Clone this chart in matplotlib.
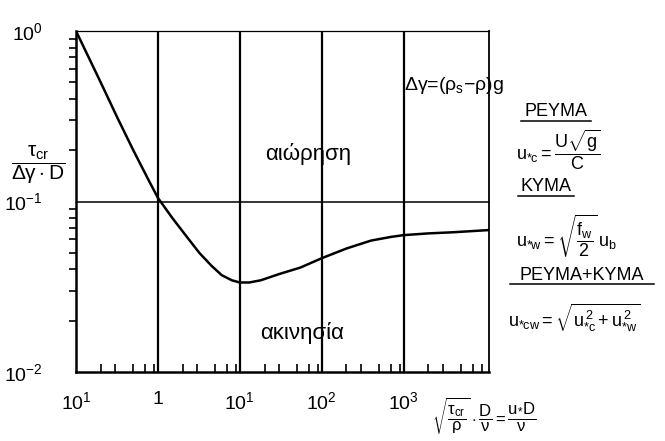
import matplotlib
matplotlib.use("Agg")
import matplotlib.pyplot as plt
from matplotlib.ticker import LogLocator, NullFormatter

plt.rcParams['font.family'] = ['Liberation Sans', 'DejaVu Sans']
plt.rcParams['mathtext.fontset'] = 'custom'
plt.rcParams['mathtext.rm'] = 'Liberation Sans'
plt.rcParams['mathtext.it'] = 'Liberation Sans'
plt.rcParams['mathtext.bf'] = 'Liberation Sans:bold'

# critical shear curve (Shields type)
re_star = [0.1, 0.2, 0.32, 0.5, 0.76, 1.0, 1.5, 2.2, 3.2, 4.5, 6, 8, 10, 13, 18, 30, 55,
           100, 200, 400, 700, 1000, 2000, 4000, 11000]
theta_cr = [1.0, 0.50, 0.31, 0.20, 0.135, 0.105, 0.08, 0.063, 0.050, 0.042, 0.037, 0.0345,
            0.0335, 0.0335, 0.0345, 0.0375, 0.041, 0.0465, 0.053, 0.059, 0.062, 0.0635,
            0.065, 0.066, 0.068]

grid_x = [1, 10, 100, 1000]
grid_y = [0.1]
xtick_pos = [0.1, 1, 10, 100, 1000]
xtick_lab = ['$10^{1}$', '1', '$10^{1}$', '$10^{2}$', '$10^{3}$']
ytick_pos = [0.01, 0.1, 1]
ytick_lab = ['$10^{-2}$', '$10^{-1}$', '$10^{0}$']

fig = plt.figure(figsize=(6.65, 4.41), dpi=100)
ax = fig.add_axes([76/665, (441-372)/441, (489-76)/665, (372-31)/441])

ax.set_xscale('log')
ax.set_yscale('log')
ax.set_xlim(0.1, 1.1e4)
ax.set_ylim(0.01, 1)

for gx in grid_x:
    ax.axvline(gx, color='black', lw=1.6)
for gy in grid_y:
    ax.axhline(gy, color='black', lw=1.1)

ax.plot(re_star, theta_cr, color='black', lw=1.8, solid_capstyle='round', solid_joinstyle='round')

ax.spines['left'].set_linewidth(1.8)
ax.spines['bottom'].set_linewidth(1.8)
ax.spines['right'].set_linewidth(1.3)
ax.spines['top'].set_linewidth(0.9)

ax.set_xticks(xtick_pos)
ax.set_xticklabels(xtick_lab, fontsize=14)
ax.set_yticks(ytick_pos)
ax.set_yticklabels(ytick_lab, fontsize=14)
ax.xaxis.set_minor_locator(LogLocator(base=10, subs=(2, 3, 5, 7, 9), numticks=20))
ax.yaxis.set_minor_locator(LogLocator(base=10, subs=(2, 3, 4, 5, 6, 7, 8, 9), numticks=20))
ax.xaxis.set_minor_formatter(NullFormatter())
ax.yaxis.set_minor_formatter(NullFormatter())
ax.tick_params(axis='x', which='both', direction='in', length=6, width=1.2, pad=14)
ax.tick_params(axis='x', which='major', length=0)
ax.tick_params(axis='y', which='both', direction='out', length=5, width=1.2, pad=24)
ax.tick_params(axis='y', which='major', length=0)

# region names
ax.text(69, 0.19, 'αιώρηση', fontsize=16, ha='center', va='center')
ax.text(57, 0.017, 'ακινησία', fontsize=16, ha='center', va='center')
ax.text(1020, 0.48, r'Δγ=(ρ$_s$−ρ)g', fontsize=14, ha='left', va='center')

# vertical axis label
fig.text(38/665, 1-165/441, r'$\dfrac{\tau_{cr}}{\Delta\gamma\cdot D}$', fontsize=15,
         ha='center', va='center')

# horizontal axis label
fig.text(484/665, 1-416/441,
         r'$\sqrt{\dfrac{\tau_{cr}}{\rho}}\cdot\dfrac{D}{\nu}=\dfrac{u_{*}D}{\nu}$',
         fontsize=12, ha='center', va='center')

# friction velocity definitions
fig.text(556/665, 1-112/441, 'PEYMA', fontsize=13, ha='center', va='center')
fig.add_artist(plt.Line2D([521/665, 591/665], [1-121/441, 1-121/441], color='black', lw=1.1))
fig.text(516/665, 1-150/441, r'$u_{*c}=\dfrac{U\sqrt{g}}{C}$', fontsize=13, ha='left', va='center')

fig.text(546/665, 1-187/441, 'KYMA', fontsize=13, ha='center', va='center')
fig.add_artist(plt.Line2D([518/665, 574/665], [1-196/441, 1-196/441], color='black', lw=1.1))
fig.text(516/665, 1-236/441, r'$u_{*w}=\sqrt{\dfrac{f_w}{2}}\,u_b$', fontsize=13, ha='left', va='center')

fig.text(582/665, 1-275/441, 'PEYMA+KYMA', fontsize=13, ha='center', va='center')
fig.add_artist(plt.Line2D([510/665, 654/665], [1-284/441, 1-284/441], color='black', lw=1.1))
fig.text(508/665, 1-318/441, r'$u_{*cw}=\sqrt{u_{*c}^{\,2}+u_{*w}^{\,2}}$', fontsize=13,
         ha='left', va='center')

fig.savefig('out.png', dpi=100)
